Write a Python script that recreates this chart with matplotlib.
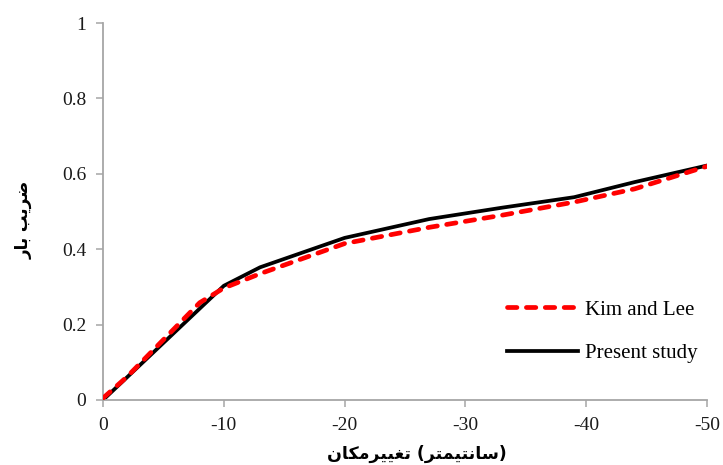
import matplotlib
matplotlib.use("Agg")
import matplotlib.pyplot as plt

# data
kim_x = [0, -2, -5, -8, -10, -13, -20, -27, -33, -39, -44, -50]
kim_y = [0.005, 0.062, 0.16, 0.258, 0.297, 0.335, 0.415, 0.458, 0.49, 0.525, 0.56, 0.62]
present_x = [0, -10, -13, -20, -27, -33, -39, -44, -50]
present_y = [0.0, 0.303, 0.352, 0.43, 0.48, 0.51, 0.538, 0.578, 0.622]

x_ticks = [0, -10, -20, -30, -40, -50]
y_ticks = [0, 0.2, 0.4, 0.6, 0.8, 1]
legend_labels = ["Kim and Lee", "Present study"]

# Persian labels, written in presentation forms (visual order) since matplotlib does no shaping
xlabel_fa = ("\uFEE5\uFE8E\uFB91\uFEE3\uFEAE\uFBFF\uFBFF\uFED0\uFE97"
             " (\uFEAE\uFE98\uFEE4\uFBFF\uFE98\uFEE7\uFE8E\uFEB3)")
ylabel_fa = "\uFEAD\uFE8E\uFE91 \uFE90\uFBFE\uFEAE\uFEBF"

plt.rcParams['font.family'] = ['Liberation Serif', 'DejaVu Serif']

fig = plt.figure(figsize=(7.23, 4.65), dpi=100)
ax = fig.add_axes([0.1425, 0.1398, 0.8355, 0.8107])

ax.plot(present_x, present_y, color='black', lw=2.7, label=legend_labels[1], zorder=2)
ax.plot(kim_x, kim_y, color='#ff0000', lw=3.4, dashes=(2.0, 2.0), dash_capstyle='round',
        label=legend_labels[0], zorder=3)

ax.set_xlim(0, -50)
ax.set_ylim(0, 1)
ax.set_xticks(x_ticks)
ax.set_xticklabels([str(v) for v in x_ticks])
ax.set_yticks(y_ticks)
ax.set_yticklabels(['0', '0.2', '0.4', '0.6', '0.8', '1'])

for s in ['top', 'right']:
    ax.spines[s].set_visible(False)
for s in ['left', 'bottom']:
    ax.spines[s].set_color('#a6a6a6')
    ax.spines[s].set_linewidth(1.3)
ax.tick_params(axis='both', direction='out', length=5, width=1.1, color='#a6a6a6',
               labelsize=14, labelcolor='#1a1a1a', pad=7)

ax.set_xlabel(xlabel_fa, family=['DejaVu Sans'], fontweight='bold', fontsize=12.5)
ax.xaxis.set_label_coords(0.52, -0.118)
ax.set_ylabel(ylabel_fa, family=['DejaVu Sans'], fontweight='bold', fontsize=12)
ax.yaxis.set_label_coords(-0.116, 0.477)

handles, labels = ax.get_legend_handles_labels()
order = [1, 0]
ax.legend([handles[i] for i in order], [labels[i] for i in order],
          loc='upper left', bbox_to_anchor=(0.669, 0.265), frameon=False,
          borderpad=0, borderaxespad=0, handlelength=3.4, handletextpad=0.35,
          labelspacing=1.15, fontsize=15)

fig.savefig('out.png', dpi=100)
